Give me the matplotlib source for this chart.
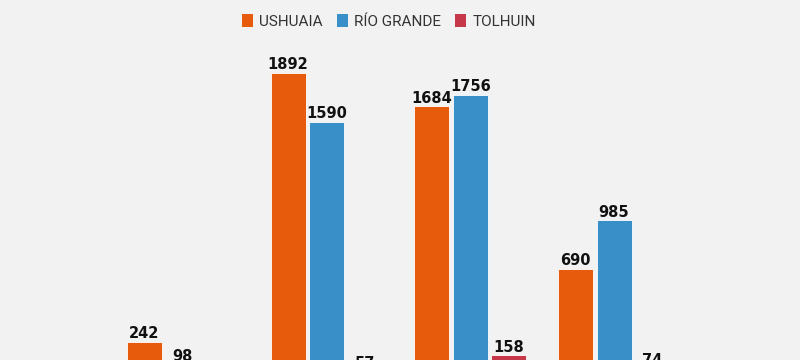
import numpy as np
import matplotlib
matplotlib.use("Agg")
import matplotlib.pyplot as plt
from matplotlib.patches import Patch

# values (tolhuin in the first group is hidden below the edge)
groups = ["G1", "G2", "G3", "G4"]
ushuaia = [242, 1892, 1684, 690]
rio_grande = [98, 1590, 1756, 985]
tolhuin = [10, 57, 158, 74]
series_names = ["USHUAIA", "RÍO GRANDE", "TOLHUIN"]
colors = ["#E65C0C", "#3990C9", "#C7374A"]
bg = "#F2F2F2"

fig = plt.figure(figsize=(8, 3.6), dpi=100, facecolor=bg)
ax = fig.add_axes([0, 0, 1, 1])
ax.set_facecolor(bg)

x = np.arange(len(groups))
w = 0.244
step = 0.268

for k, (vals, col) in enumerate(zip([ushuaia, rio_grande, tolhuin], colors)):
    pos = x + (k - 1) * step
    bars = ax.bar(pos, vals, width=w, color=col, edgecolor="white", linewidth=0.6)
    for b, v in zip(bars, vals):
        ax.annotate(str(v), (b.get_x() + b.get_width() / 2, v),
                    xytext=(0, 0.5), textcoords="offset points",
                    ha="center", va="bottom", fontsize=10.5,
                    fontweight="bold", color="#111111",
                    annotation_clip=False)

# the picture is cropped: baseline sits below the bottom edge
ax.set_xlim(-1.273, 4.294)
ax.set_ylim(129, 2337)
ax.axis("off")

handles = [Patch(facecolor=c, edgecolor="none") for c in colors]
fig.legend(handles, series_names, loc="center", bbox_to_anchor=(0.486, 0.94),
           ncol=3, frameon=False, handlelength=0.75, handleheight=0.9,
           handletextpad=0.4, columnspacing=0.9,
           prop={"family": "Roboto", "size": 11}, labelcolor="#333333")

fig.savefig("out.png", dpi=100, facecolor=bg)
